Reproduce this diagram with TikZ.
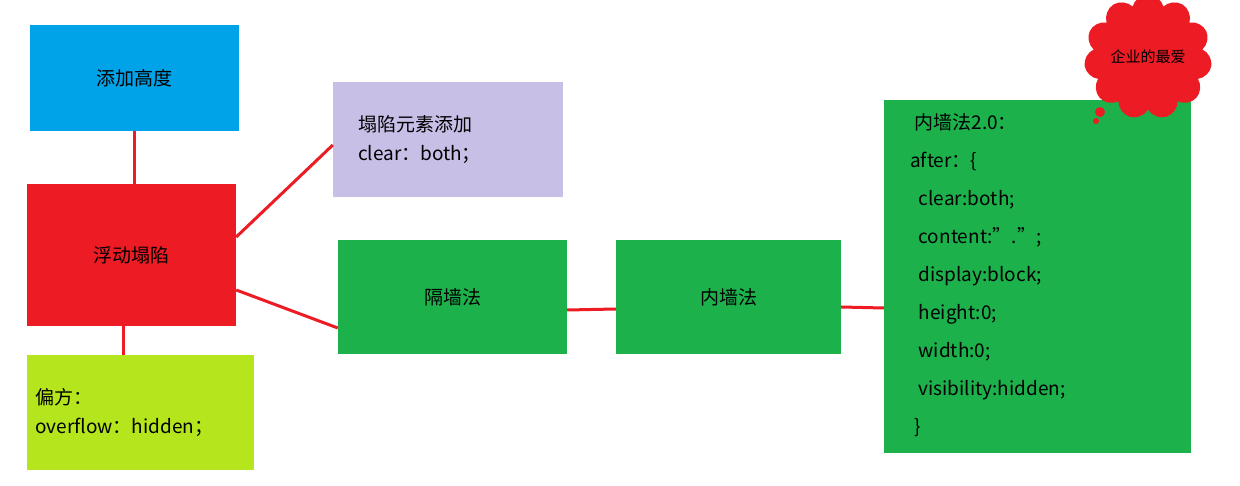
\documentclass[tikz,border=0pt]{standalone}
\usepackage{fontspec}
\setmainfont{Noto Sans CJK SC}
\usetikzlibrary{shapes.symbols}
\definecolor{skyblue}{RGB}{0,162,232}
\definecolor{boxred}{RGB}{237,28,36}
\definecolor{lime}{RGB}{181,230,29}
\definecolor{lav}{RGB}{200,191,231}
\definecolor{grn}{RGB}{29,177,76}
\tikzset{
  box/.style={draw=none, inner sep=0pt, font=\fontsize{19}{23}\selectfont},
  link/.style={boxred, line width=3pt}
}
\begin{document}
\begin{tikzpicture}[x=1pt,y=-1pt]
  \useasboundingbox (0,0) rectangle (1240,486);
  % boxes
  \node[box, fill=skyblue, minimum width=209, minimum height=106] (height) at (134.5,78) {添加高度};
  \node[box, fill=boxred, minimum width=209, minimum height=142] (float) at (131.5,255) {浮动塌陷};
  \node[box, fill=lime, minimum width=227, minimum height=115, align=left, text width=210] (hack) at (140.5,412.5) {偏方：\\[6pt]overflow：hidden；};
  \node[box, fill=lav, minimum width=230, minimum height=115, align=left, text width=180] (clear) at (448,139.5) {塌陷元素添加\\[6pt]clear：both；};
  \node[box, fill=grn, minimum width=229, minimum height=114] (outer) at (452.5,297) {隔墙法};
  \node[box, fill=grn, minimum width=225, minimum height=114] (inner) at (728.5,297) {内墙法};
  \node[box, fill=grn, minimum width=307, minimum height=353] (code) at (1037.5,276.5) {};
  \node[box, anchor=north west, align=left, font=\fontsize{19}{38}\selectfont] (codetext) at (910,113) {
    \ 内墙法2.0：\\
    after：\{\\
    \ \ clear:both;\\
    \ \ content:".";\\
    \ \ display:block;\\
    \ \ height:0;\\
    \ \ width:0;\\
    \ \ visibility:hidden;\\
    \ \}};
  % cloud
  \fill[boxred] (1100,112) circle (5) (1096,121) circle (3);
  \node[cloud, cloud puffs=11, fill=boxred, minimum width=128, minimum height=66, inner sep=0pt, font=\fontsize{15}{18}\selectfont] (love) at (1148,57) {企业的最爱};
  % links
  \draw[link] (height.south) -- (float.north -| height.south);
  \draw[link] (float.south -| 123,0) -- (hack.north -| 123,0);
  \draw[link] (float.east |- 0,237) -- (clear.west |- 0,145);
  \draw[link] (float.east |- 0,290) -- (outer.west |- 0,328);
  \draw[link] (outer.east |- 0,310) -- (inner.west |- 0,309);
  \draw[link] (inner.east |- 0,307) -- (code.west |- 0,308);
\end{tikzpicture}
\end{document}
